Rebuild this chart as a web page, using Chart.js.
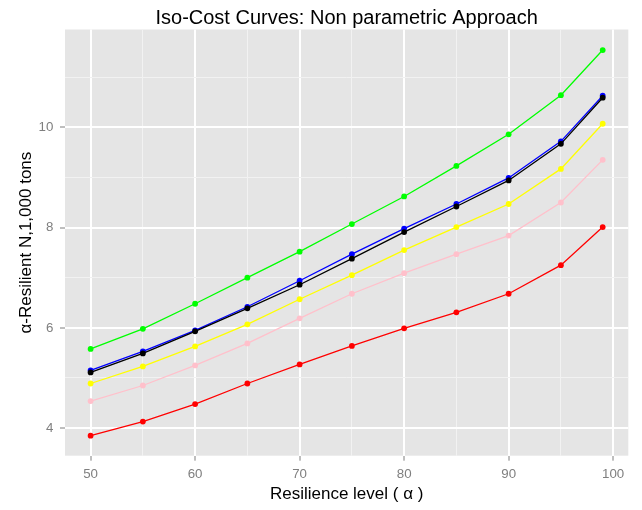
<!DOCTYPE html>
<html>
<head>
<meta charset="utf-8">
<title>Iso-Cost Curves</title>
<script src="https://cdn.jsdelivr.net/npm/chart.js@4.4.1/dist/chart.umd.min.js"></script>
<style>
  html, body { margin: 0; padding: 0; background: #fff; }
  #wrap { width: 642px; height: 510px; }
</style>
</head>
<body>
<div id="wrap"><canvas id="isoCostChart" width="642" height="510"></canvas></div>
<script>
// resilience levels (alpha, %)
const alphaLevels = [50, 55, 60, 65, 70, 75, 80, 85, 90, 95, 99];

// alpha-resilient N for each cost level, 1,000 tons
const greenCurve  = [5.58, 5.98, 6.48, 7.00, 7.52, 8.07, 8.62, 9.23, 9.86, 10.64, 11.54];
const blueCurve   = [5.15, 5.53, 5.95, 6.42, 6.94, 7.47, 7.98, 8.47, 8.99, 9.72, 10.63];
const blackCurve  = [5.11, 5.49, 5.93, 6.39, 6.86, 7.38, 7.91, 8.42, 8.94, 9.67, 10.59];
const yellowCurve = [4.89, 5.23, 5.63, 6.07, 6.57, 7.05, 7.55, 8.01, 8.47, 9.17, 10.07];
const pinkCurve   = [4.54, 4.85, 5.25, 5.69, 6.19, 6.68, 7.09, 7.47, 7.84, 8.50, 9.35];
const redCurve    = [3.85, 4.13, 4.48, 4.89, 5.27, 5.64, 5.99, 6.31, 6.68, 7.25, 8.01];

// axis breaks (major ones get labels and tick marks)
const xBreaks = [50, 60, 70, 80, 90, 100];
const xMinorBreaks = [55, 65, 75, 85, 95];
const yBreaks = [4, 6, 8, 10];
const yMinorBreaks = [5, 7, 9, 11];

const FONT = '"Liberation Sans", Arial, sans-serif';

function toPoints(ys) {
    return alphaLevels.map((x, i) => ({ x: x, y: ys[i] }));
}

function curve(ys, color) {
    return {
        data: toPoints(ys),
        borderColor: color,
        backgroundColor: color,
        borderWidth: 1.3,
        pointRadius: 2.9,
        pointBorderWidth: 0,
        pointBackgroundColor: color,
        tension: 0
    };
}

function setTicks(major, minor) {
    return axis => {
        axis.ticks = major.concat(minor).sort((a, b) => a - b).map(v => ({ value: v }));
    };
}

function gridFor(major) {
    return {
        drawOnChartArea: true,
        color: ctx => (ctx.tick && major.includes(ctx.tick.value)) ? '#ffffff' : '#f2f2f2',
        lineWidth: ctx => (ctx.tick && major.includes(ctx.tick.value)) ? 2 : 1,
        tickColor: ctx => (ctx.tick && major.includes(ctx.tick.value)) ? '#7f7f7f' : 'rgba(0,0,0,0)',
        tickLength: 5,
        tickWidth: 1
    };
}

// grey panel behind the grid + centred title
const panelPlugin = {
    id: 'panel',
    beforeDraw(chart) {
        const { ctx, chartArea } = chart;
        ctx.save();
        ctx.fillStyle = '#e5e5e5';
        ctx.fillRect(chartArea.left, chartArea.top, chartArea.right - chartArea.left, chartArea.bottom - chartArea.top);
        ctx.restore();
    },
    afterDraw(chart) {
        const { ctx, chartArea } = chart;
        ctx.save();
        ctx.fillStyle = '#000000';
        ctx.font = '20px ' + FONT;
        ctx.textAlign = 'center';
        ctx.textBaseline = 'alphabetic';
        ctx.fillText('Iso-Cost Curves: Non parametric Approach', (chartArea.left + chartArea.right) / 2, 24);
        ctx.restore();
    }
};

new Chart(document.getElementById('isoCostChart'), {
    type: 'line',
    data: {
        datasets: [
            curve(greenCurve, '#00ff00'),
            curve(blackCurve, '#000000'),
            curve(blueCurve, '#0000ff'),
            curve(yellowCurve, '#ffff00'),
            curve(pinkCurve, '#ffc0cb'),
            curve(redCurve, '#ff0000')
        ]
    },
    options: {
        responsive: false,
        animation: false,
        layout: { padding: { top: 29.5, right: 13.7, left: 0, bottom: 0 } },
        plugins: {
            legend: { display: false },
            tooltip: { enabled: false },
            title: { display: false }
        },
        scales: {
            x: {
                type: 'linear',
                min: 47.55,
                max: 101.45,
                afterBuildTicks: setTicks(xBreaks, xMinorBreaks),
                afterFit: scale => { scale.height = 54.3; },
                border: { display: false },
                grid: gridFor(xBreaks),
                ticks: {
                    autoSkip: false,
                    maxRotation: 0,
                    padding: 5.3,
                    color: '#7f7f7f',
                    font: { family: FONT, size: 13.3 },
                    callback: v => xBreaks.includes(v) ? String(v) : ''
                },
                title: {
                    display: true,
                    text: 'Resilience level ( α )',
                    color: '#000000',
                    font: { family: FONT, size: 17 },
                    padding: { top: 0, bottom: 5.8 }
                }
            },
            y: {
                type: 'linear',
                min: 3.45,
                max: 11.95,
                afterBuildTicks: setTicks(yBreaks, yMinorBreaks),
                afterFit: scale => { scale.width = 65; },
                border: { display: false },
                grid: gridFor(yBreaks),
                ticks: {
                    autoSkip: false,
                    padding: 6.7,
                    color: '#7f7f7f',
                    font: { family: FONT, size: 13.3 },
                    callback: v => yBreaks.includes(v) ? String(v) : ''
                },
                title: {
                    display: true,
                    text: 'α-Resilient N,1,000 tons',
                    color: '#000000',
                    font: { family: FONT, size: 17 },
                    padding: { top: 15.8, bottom: 0 }
                }
            }
        }
    },
    plugins: [panelPlugin]
});
</script>
</body>
</html>
